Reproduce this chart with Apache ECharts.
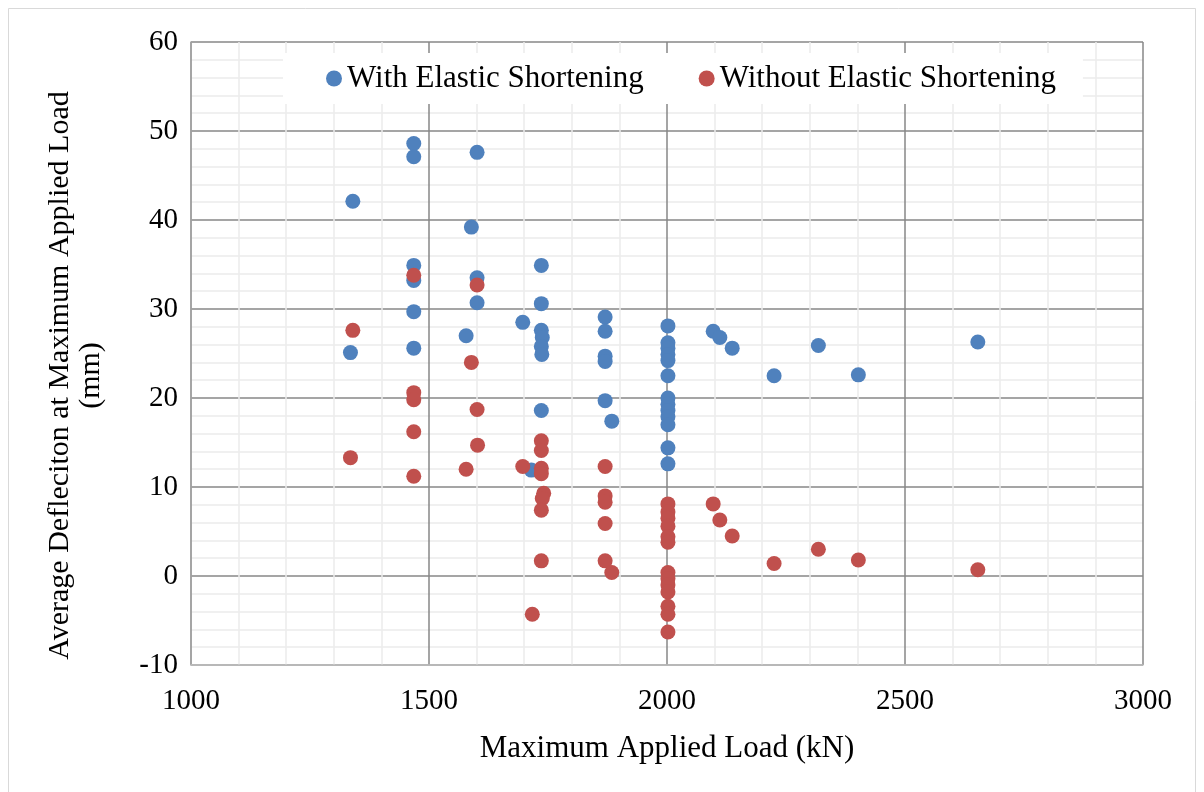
<!DOCTYPE html>
<html>
<head>
<meta charset="utf-8">
<script src="https://cdn.jsdelivr.net/npm/echarts@6/dist/echarts.min.js"></script>
<style>
  html, body { margin: 0; padding: 0; background: #ffffff; }
  #chart { width: 1204px; height: 792px; }
</style>
</head>
<body>
<div id="chart"></div>
<script>
// Maximum applied load (kN) vs. average deflection (mm)
const withElasticShortening = [
  [1340, 42.1], [1335, 25.1],
  [1468, 48.6], [1468, 47.1], [1468, 34.9], [1468, 33.2], [1468, 29.7], [1468, 25.6],
  [1601, 47.6], [1589, 39.2], [1601, 33.5], [1601, 30.7], [1578, 27.0],
  [1697, 28.5], [1736, 34.9], [1736, 30.6], [1736, 27.6], [1738, 26.8], [1736, 25.8],
  [1737, 24.9], [1736, 18.6], [1715, 11.9],
  [1870, 29.1], [1870, 27.5], [1870, 24.7], [1870, 24.1], [1870, 19.7], [1884, 17.4],
  [2002, 28.1], [2002, 26.2], [2002, 25.6], [2002, 24.9], [2002, 24.2], [2002, 22.5],
  [2002, 20.0], [2002, 19.3], [2002, 18.6], [2002, 17.9], [2002, 17.0], [2002, 14.4], [2002, 12.6],
  [2097, 27.5], [2111, 26.8], [2137, 25.6], [2225, 22.5], [2318, 25.9], [2402, 22.6], [2653, 26.3]
];

const withoutElasticShortening = [
  [1340, 27.6], [1335, 13.3],
  [1468, 33.8], [1468, 20.6], [1468, 19.8], [1468, 16.2], [1468, 11.2],
  [1601, 32.7], [1589, 24.0], [1601, 18.7], [1602, 14.7], [1578, 12.0],
  [1697, 12.3], [1736, 15.2], [1736, 14.1], [1736, 12.1], [1736, 11.5], [1741, 9.3],
  [1738, 8.7], [1736, 7.4], [1736, 1.7], [1717, -4.3],
  [1870, 12.3], [1870, 9.0], [1870, 8.3], [1870, 5.9], [1870, 1.7], [1884, 0.4],
  [2002, 8.1], [2002, 7.2], [2002, 6.5], [2002, 5.6], [2002, 4.4], [2002, 3.8],
  [2002, 0.4], [2002, -0.3], [2002, -1.0], [2002, -1.8], [2002, -3.4], [2002, -4.3], [2002, -6.3],
  [2097, 8.1], [2111, 6.3], [2137, 4.5], [2225, 1.4], [2318, 3.0], [2402, 1.8], [2653, 0.7]
];

const seriesNames = ['With Elastic Shortening', 'Without Elastic Shortening'];
const xAxisTitle = 'Maximum Applied Load (kN)';
const yAxisTitle = 'Average Defleciton at Maximum Applied Load\n(mm)';

const FONT = '"Liberation Serif", "Times New Roman", serif';
const majorLine = { color: '#878787', width: 1.5 };
const minorLine = { color: '#ececec', width: 1.5 };

const chart = echarts.init(document.getElementById('chart'), null, { renderer: 'canvas' });

chart.setOption({
  backgroundColor: '#ffffff',
  animation: false,
  textStyle: { fontFamily: FONT },
  graphic: [{
    type: 'rect',
    silent: true,
    z: -10,
    shape: { x: 8.5, y: 8.5, width: 1187, height: 800 },
    style: { fill: 'none', stroke: '#d9d9d9', lineWidth: 1 }
  }],
  grid: { left: 191, right: 61, top: 42, bottom: 127, containLabel: false },
  legend: {
    data: seriesNames,
    left: 283,
    top: 53,
    padding: [10, 27, 10, 43],
    backgroundColor: '#ffffff',
    itemGap: 55,
    itemWidth: 16,
    itemHeight: 16,
    icon: 'circle',
    textStyle: { fontFamily: FONT, fontSize: 31, color: '#000' }
  },
  xAxis: {
    type: 'value',
    min: 1000,
    max: 3000,
    interval: 500,
    name: xAxisTitle,
    nameLocation: 'middle',
    nameGap: 68,
    nameTextStyle: { fontFamily: FONT, fontSize: 31, color: '#000' },
    axisLine: { show: true, onZero: false, lineStyle: { color: '#bfbfbf', width: 1.5 } },
    axisTick: { show: false },
    axisLabel: {
      fontFamily: FONT, fontSize: 29, color: '#000', margin: 22,
      formatter: (v) => String(v)
    },
    splitLine: { show: true, lineStyle: majorLine },
    minorTick: { show: false, splitNumber: 5 },
    minorSplitLine: { show: true, lineStyle: minorLine }
  },
  yAxis: {
    type: 'value',
    min: -10,
    max: 60,
    interval: 10,
    name: yAxisTitle,
    nameLocation: 'middle',
    nameGap: 84,
    nameRotate: 90,
    nameTextStyle: {
      fontFamily: FONT, fontSize: 30, color: '#000', lineHeight: 31, align: 'center',
      padding: [0, 44, 0, 0]
    },
    axisLine: { show: true, onZero: false, lineStyle: { color: '#a6a6a6', width: 1.5 } },
    axisTick: { show: false },
    axisLabel: {
      fontFamily: FONT, fontSize: 29, color: '#000', margin: 13,
      formatter: (v) => String(v)
    },
    splitLine: { show: true, lineStyle: majorLine },
    minorTick: { show: false, splitNumber: 5 },
    minorSplitLine: { show: true, lineStyle: minorLine }
  },
  series: [
    {
      name: seriesNames[0],
      type: 'scatter',
      data: withElasticShortening,
      symbol: 'circle',
      symbolSize: 15,
      itemStyle: { color: '#4F81BD', opacity: 1 }
    },
    {
      name: seriesNames[1],
      type: 'scatter',
      data: withoutElasticShortening,
      symbol: 'circle',
      symbolSize: 15,
      itemStyle: { color: '#C0504D', opacity: 1 }
    }
  ]
});
</script>
</body>
</html>
